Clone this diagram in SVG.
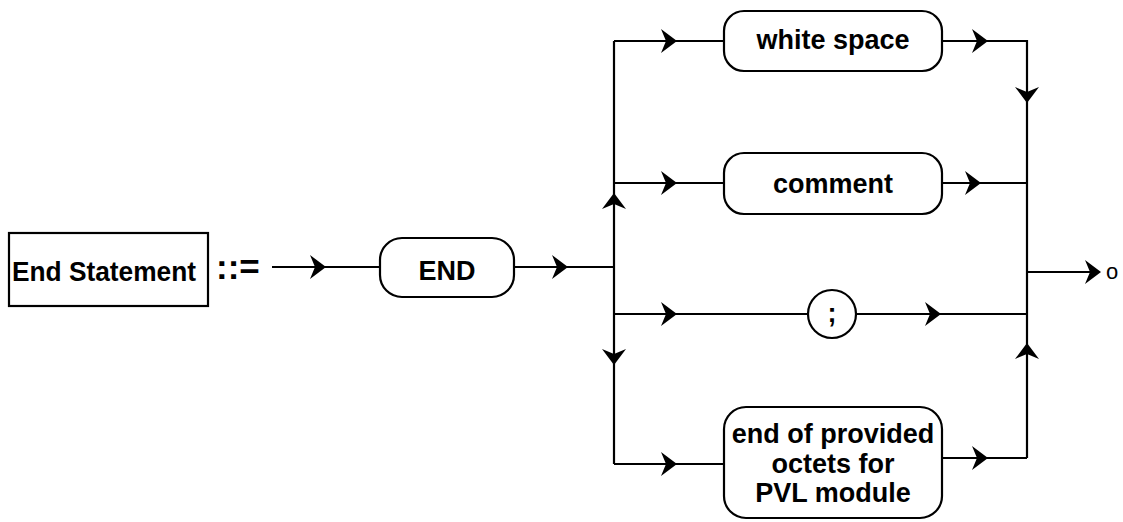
<svg xmlns="http://www.w3.org/2000/svg" xmlns:xlink="http://www.w3.org/1999/xlink" width="1123" height="522" viewBox="0 0 1123 522">
<style>
.box{fill:#fff;stroke:#000;stroke-width:2.2}
.ln{fill:none;stroke:#000;stroke-width:2.2}
.t{font-family:"Liberation Sans",Arial,Helvetica,sans-serif;font-weight:bold;font-size:27px;fill:#000;text-anchor:middle}
.ah{fill:#000;stroke:none}
</style>
<defs>
<path id="ah" class="ah" d="M0,0 L-16,-12 L-11,0 L-16,12 Z"/>
</defs>
<rect width="1123" height="522" fill="#fff"/>
<g id="connectors">
<path class="ln" d="M272,267 H380"/>
<path class="ln" d="M514,267 H614"/>
<path class="ln" d="M614,41 V464"/>
<path class="ln" d="M614,41 H724"/>
<path class="ln" d="M942,41 H1027 V458"/>
<path class="ln" d="M614,183 H724"/>
<path class="ln" d="M942,183 H1027"/>
<path class="ln" d="M614,314 H808"/>
<path class="ln" d="M856,314 H1027"/>
<path class="ln" d="M614,464 H724"/>
<path class="ln" d="M942,458 H1027"/>
<path class="ln" d="M1027,272 H1098"/>
<use xlink:href="#ah" transform="translate(326,267)"/>
<use xlink:href="#ah" transform="translate(568,267)"/>
<use xlink:href="#ah" transform="translate(677,41)"/>
<use xlink:href="#ah" transform="translate(988,41)"/>
<use xlink:href="#ah" transform="translate(1027,103) rotate(90)"/>
<use xlink:href="#ah" transform="translate(677,183)"/>
<use xlink:href="#ah" transform="translate(981,183)"/>
<use xlink:href="#ah" transform="translate(614,193) rotate(-90)"/>
<use xlink:href="#ah" transform="translate(677,314)"/>
<use xlink:href="#ah" transform="translate(941,314)"/>
<use xlink:href="#ah" transform="translate(614,365) rotate(90)"/>
<use xlink:href="#ah" transform="translate(1027,343) rotate(-90)"/>
<use xlink:href="#ah" transform="translate(677,464)"/>
<use xlink:href="#ah" transform="translate(988,458)"/>
<use xlink:href="#ah" transform="translate(1101,272)"/>
</g>
<g id="end-statement">
<rect class="box" x="9" y="233" width="199" height="73"/>
<text class="t" x="104" y="281" textLength="184" lengthAdjust="spacingAndGlyphs">End Statement</text>
</g>
<g id="defines">
<text x="216" y="279" style="font-family:'Liberation Sans',Arial,sans-serif;font-weight:bold;font-size:35px">::=</text>
</g>
<g id="end">
<rect class="box" x="380" y="238" width="134" height="59" rx="22"/>
<text class="t" x="447" y="280">END</text>
</g>
<g id="white-space">
<rect class="box" x="724" y="11" width="218" height="60" rx="20"/>
<text class="t" x="833" y="49">white space</text>
</g>
<g id="comment">
<rect class="box" x="724" y="153" width="218" height="61" rx="20"/>
<text class="t" x="833" y="193">comment</text>
</g>
<g id="semicolon">
<circle class="box" cx="832" cy="314" r="24"/>
<text class="t" x="832" y="322">;</text>
</g>
<g id="end-of-octets">
<rect class="box" x="724" y="407" width="218" height="111" rx="22"/>
<text class="t" x="833" y="443">end of provided</text>
<text class="t" x="833" y="472.5">octets for</text>
<text class="t" x="833" y="502">PVL module</text>
</g>
<g id="exit">
<text x="1106" y="279" style="font-family:'Liberation Sans',Arial,sans-serif;font-size:22px">o</text>
</g>
</svg>
